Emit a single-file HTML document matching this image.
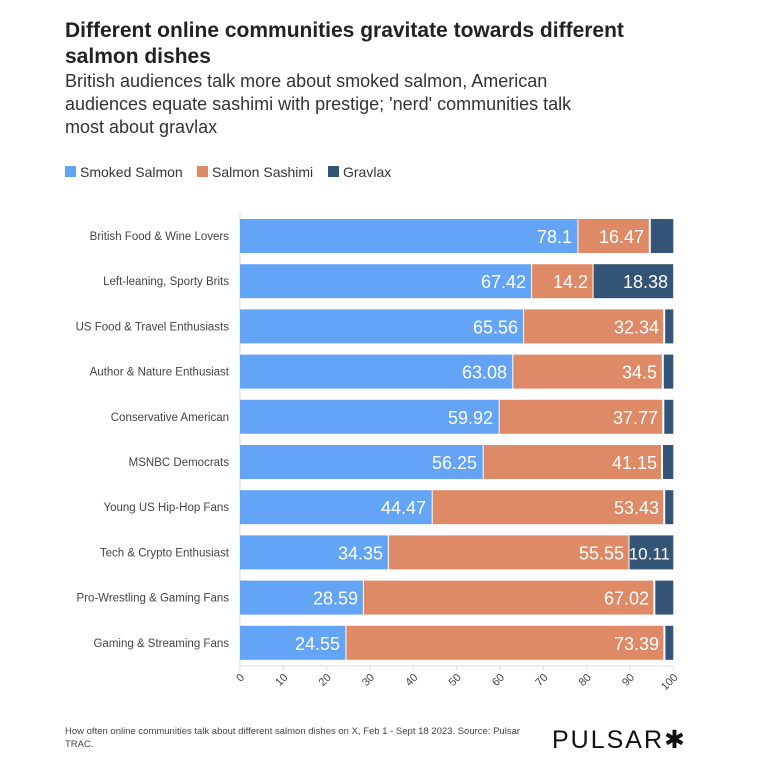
<!DOCTYPE html>
<html><head><meta charset="utf-8"><style>
body{margin:0;background:#fff;font-family:"Liberation Sans",sans-serif;}
</style></head><body>
<svg width="768" height="772" xmlns="http://www.w3.org/2000/svg" font-family="Liberation Sans, sans-serif">
<text x="65" y="37" font-size="21" font-weight="bold" fill="#222">Different online communities gravitate towards different</text>
<text x="65" y="63" font-size="21" font-weight="bold" fill="#222">salmon dishes</text>
<text x="65" y="87" font-size="18" fill="#333">British audiences talk more about smoked salmon, American</text>
<text x="65" y="110" font-size="18" fill="#333">audiences equate sashimi with prestige; 'nerd' communities talk</text>
<text x="65" y="133" font-size="18" fill="#333">most about gravlax</text>
<rect x="65" y="166" width="11" height="11" fill="#63a4f6"/><text x="80" y="177" font-size="14" fill="#333">Smoked Salmon</text>
<rect x="197" y="166" width="11" height="11" fill="#df8a66"/><text x="212" y="177" font-size="14" fill="#333">Salmon Sashimi</text>
<rect x="328" y="166" width="11" height="11" fill="#345478"/><text x="343" y="177" font-size="14" fill="#333">Gravlax</text>
<line x1="240" y1="212" x2="240" y2="666" stroke="#ddd"/>
<line x1="240" y1="666" x2="674" y2="666" stroke="#ddd"/>

<g font-size="11.5" fill="#444" text-anchor="end">
<text x="229" y="240">British Food &amp; Wine Lovers</text>
<text x="229" y="285.2">Left-leaning, Sporty Brits</text>
<text x="229" y="330.4">US Food &amp; Travel Enthusiasts</text>
<text x="229" y="375.6">Author &amp; Nature Enthusiast</text>
<text x="229" y="420.8">Conservative American</text>
<text x="229" y="466">MSNBC Democrats</text>
<text x="229" y="511.2">Young US Hip-Hop Fans</text>
<text x="229" y="556.4">Tech &amp; Crypto Enthusiast</text>
<text x="229" y="601.6">Pro-Wrestling &amp; Gaming Fans</text>
<text x="229" y="646.8">Gaming &amp; Streaming Fans</text>
</g>

<g>
<rect x="240" y="219" width="337.4" height="34" fill="#63a4f6"/><rect x="578.4" y="219" width="70.4" height="34" fill="#df8a66"/><rect x="650.8" y="219" width="22.5" height="34" fill="#345478"/>
<rect x="240" y="264.2" width="291.1" height="34" fill="#63a4f6"/><rect x="532.1" y="264.2" width="60.5" height="34" fill="#df8a66"/><rect x="593.6" y="264.2" width="79.6" height="34" fill="#345478"/>
<rect x="240" y="309.4" width="283.1" height="34" fill="#63a4f6"/><rect x="524.1" y="309.4" width="139.1" height="34" fill="#df8a66"/><rect x="665.2" y="309.4" width="8.1" height="34" fill="#345478"/>
<rect x="240" y="354.6" width="272.3" height="34" fill="#63a4f6"/><rect x="513.3" y="354.6" width="148.5" height="34" fill="#df8a66"/><rect x="663.8" y="354.6" width="9.5" height="34" fill="#345478"/>
<rect x="240" y="399.8" width="258.6" height="34" fill="#63a4f6"/><rect x="499.6" y="399.8" width="162.7" height="34" fill="#df8a66"/><rect x="664.3" y="399.8" width="9" height="34" fill="#345478"/>
<rect x="240" y="445" width="242.7" height="34" fill="#63a4f6"/><rect x="483.7" y="445" width="177.3" height="34" fill="#df8a66"/><rect x="663" y="445" width="10.3" height="34" fill="#345478"/>
<rect x="240" y="490.2" width="191.7" height="34" fill="#63a4f6"/><rect x="432.7" y="490.2" width="230.5" height="34" fill="#df8a66"/><rect x="665.2" y="490.2" width="8.1" height="34" fill="#345478"/>
<rect x="240" y="535.4" width="147.8" height="34" fill="#63a4f6"/><rect x="388.8" y="535.4" width="239.7" height="34" fill="#df8a66"/><rect x="629.5" y="535.4" width="43.8" height="34" fill="#345478"/>
<rect x="240" y="580.6" width="122.9" height="34" fill="#63a4f6"/><rect x="363.9" y="580.6" width="289.4" height="34" fill="#df8a66"/><rect x="655.3" y="580.6" width="18" height="34" fill="#345478"/>
<rect x="240" y="625.8" width="105.4" height="34" fill="#63a4f6"/><rect x="346.4" y="625.8" width="317" height="34" fill="#df8a66"/><rect x="665.4" y="625.8" width="7.9" height="34" fill="#345478"/>
</g>

<g font-size="18" fill="#fff" text-anchor="end">
<text x="572" y="243">78.1</text><text x="644" y="243">16.47</text>
<text x="526" y="288.2">67.42</text><text x="588" y="288.2">14.2</text><text x="668" y="288.2">18.38</text>
<text x="518" y="333.4">65.56</text><text x="659" y="333.4">32.34</text>
<text x="507" y="378.6">63.08</text><text x="657" y="378.6">34.5</text>
<text x="493" y="423.8">59.92</text><text x="658" y="423.8">37.77</text>
<text x="477" y="469">56.25</text><text x="657" y="469">41.15</text>
<text x="426" y="514.2">44.47</text><text x="659" y="514.2">53.43</text>
<text x="383" y="559.4">34.35</text><text x="624" y="559.4">55.55</text><text x="670" y="559.4" font-size="17">10.11</text>
<text x="358" y="604.6">28.59</text><text x="649" y="604.6">67.02</text>
<text x="340" y="649.8">24.55</text><text x="659" y="649.8">73.39</text>
</g>

<g stroke="#ddd">
<line x1="240" y1="666" x2="240" y2="671"/><line x1="283.3" y1="666" x2="283.3" y2="671"/><line x1="326.7" y1="666" x2="326.7" y2="671"/><line x1="370" y1="666" x2="370" y2="671"/><line x1="413.3" y1="666" x2="413.3" y2="671"/><line x1="456.7" y1="666" x2="456.7" y2="671"/><line x1="500" y1="666" x2="500" y2="671"/><line x1="543.3" y1="666" x2="543.3" y2="671"/><line x1="586.7" y1="666" x2="586.7" y2="671"/><line x1="630" y1="666" x2="630" y2="671"/><line x1="673.3" y1="666" x2="673.3" y2="671"/>
</g>
<g font-size="11" fill="#444" text-anchor="end">
<text transform="translate(245,678) rotate(-45)">0</text>
<text transform="translate(288.3,678) rotate(-45)">10</text>
<text transform="translate(331.7,678) rotate(-45)">20</text>
<text transform="translate(375,678) rotate(-45)">30</text>
<text transform="translate(418.3,678) rotate(-45)">40</text>
<text transform="translate(461.7,678) rotate(-45)">50</text>
<text transform="translate(505,678) rotate(-45)">60</text>
<text transform="translate(548.3,678) rotate(-45)">70</text>
<text transform="translate(591.7,678) rotate(-45)">80</text>
<text transform="translate(635,678) rotate(-45)">90</text>
<text transform="translate(678.3,678) rotate(-45)">100</text>
</g>

<text x="65" y="734" font-size="9.5" fill="#444">How often online communities talk about different salmon dishes on X, Feb 1 - Sept 18 2023. Source: Pulsar</text>
<text x="65" y="747" font-size="9.5" fill="#444">TRAC.</text>
<text x="552" y="748" font-size="25" fill="#111" letter-spacing="2">PULSAR✱</text>
</svg>
</body></html>
